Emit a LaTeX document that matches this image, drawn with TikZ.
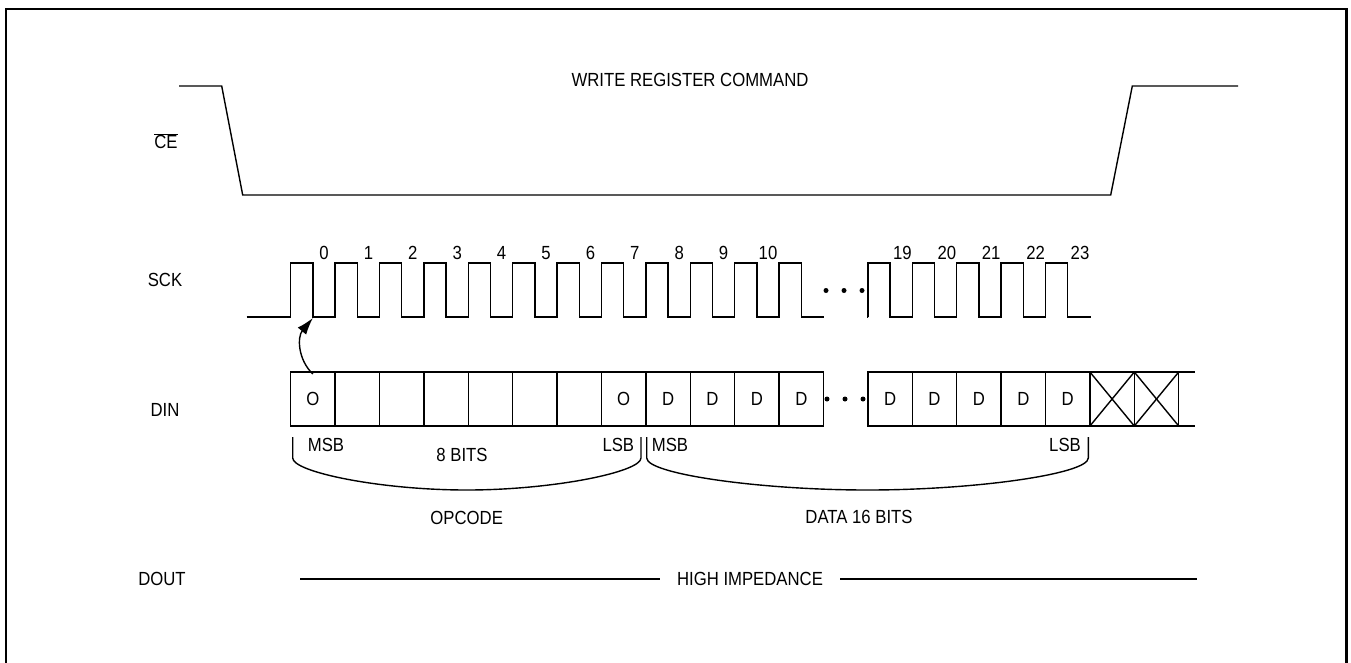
\documentclass[tikz,border=0pt]{standalone}
\usepackage{fontspec}
\setmainfont{Liberation Sans}[FakeStretch=0.88]
\usetikzlibrary{arrows.meta, positioning, calc}

\begin{document}
\begin{tikzpicture}[
    x=1pt,
    y=-1pt,
    font=\fontsize{19}{22}\selectfont,
    wave/.style={draw=black, line width=1.4pt, line join=miter},
    cell/.style={draw=black, line width=1.4pt, minimum width=44.4pt, minimum height=54pt, inner sep=0pt, outer sep=0pt, anchor=west},
    label/.style={inner sep=0pt},
    ddot/.style={fill=black, circle, inner sep=0pt, minimum size=5pt}
]
    \useasboundingbox (0,0) rectangle (1351,662);

    % --- Frame ---
    \draw[line width=2.2pt] (6,672) -- (6,9) -- (1346.5,9) -- (1346.5,672);

    % --- Signal names ---
    \node[label] (lblce) at (166,141) {$\overline{\hbox{CE}}$};
    \node[label] (lblsck) at (165,280) {SCK};
    \node[label] (lbldin) at (165,410) {DIN};
    \node[label] (lbldout) at (162,579) {DOUT};

    % --- CE ---
    \node[label] (title) at (690,80) {WRITE REGISTER COMMAND};
    \draw[wave] (179,86) -- (221.7,86) -- (242.7,195) -- (1110.7,195) -- (1132.3,86) -- (1238,86);

    % --- SCK ---
    \draw[wave] (246.7,317) \foreach \k in {0,...,11} {
        -- ({290.7+44.4*\k},317) -- ++(0,-54) -- ++(22.2,0) -- ++(0,54)
    } -- (823.5,317);
    \draw[wave] (867.9,317) \foreach \k in {13,...,17} {
        -- ({290.7+44.4*\k},317) -- ++(0,-54) -- ++(22.2,0) -- ++(0,54)
    } -- (1091,317);
    \coordinate (fall0) at (312.9,318);
    \foreach \k in {0,...,10} {
        \node[label, anchor=base] (n\k) at ({290.7+44.4*\k+33.3},259) {\k};
    }
    \foreach \k/\n in {13/19, 14/20, 15/21, 16/22, 17/23} {
        \node[label, anchor=base] (n\n) at ({290.7+44.4*\k+34.5},259) {\n};
    }
    \foreach \x in {826,844,862} {
        \node[ddot] (sd\x) at (\x,290.5) {};
    }

    % --- DIN ---
    \foreach \k/\txt in {0/O, 1/{}, 2/{}, 3/{}, 4/{}, 5/{}, 6/{}, 7/O, 8/D, 9/D, 10/D, 11/D,
                         13/D, 14/D, 15/D, 16/D, 17/D, 18/{}, 19/{}} {
        \node[cell] (d\k) at ({290.7+44.4*\k},399) {\txt};
    }
    \foreach \k in {18,19} {
        \draw[wave] (d\k.north west) -- (d\k.south east);
        \draw[wave] (d\k.south west) -- (d\k.north east);
    }
    \draw[wave] (d19.north east) -- ++(16.3,0);
    \draw[wave] (d19.south east) -- ++(16.3,0);
    \foreach \x in {827,845,863} {
        \node[ddot] (dd\x) at (\x,399) {};
    }
    \draw[wave, -{Latex[length=17pt, width=11pt]}] ([yshift=-2pt]d0.north) .. controls (298,360) and (297,337) .. (fall0);

    % --- Bit fields ---
    \node[label] (msbop) at (326,445) {MSB};
    \node[label] (bitsop) at (462,455) {8 BITS};
    \node[label] (lsbop) at (618.3,445) {LSB};
    \node[label] (msbdata) at (670,445) {MSB};
    \node[label] (lsbdata) at (1065,445) {LSB};
    \draw[wave] (292.7,437) -- (292.7,458) .. controls (292.7,472) and (380,490) .. (466.7,490)
        .. controls (553,490) and (641,472) .. (641,458) -- (641,437);
    \draw[wave] (646.7,437) -- (646.7,458) .. controls (646.7,474) and (760,490) .. (867.5,490)
        .. controls (975,490) and (1088.3,474) .. (1088.3,458) -- (1088.3,437);
    \node[label] (opcode) at (466.7,518) {OPCODE};
    \node[label] (data) at (859,517) {DATA 16 BITS};

    % --- DOUT ---
    \node[label] (hiz) at (750,579) {HIGH IMPEDANCE};
    \coordinate (hizl) at (300,579);
    \coordinate (hizr) at (1197,579);
    \draw[wave] (hizl) -- ([xshift=-17pt]hiz.west);
    \draw[wave] ([xshift=17pt]hiz.east) -- (hizr);
\end{tikzpicture}
\end{document}
